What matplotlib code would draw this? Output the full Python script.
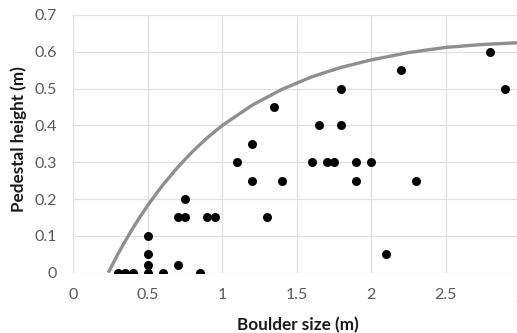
import matplotlib
matplotlib.use("Agg")
import matplotlib.pyplot as plt

# Observed boulders
boulder_size = [0.3, 0.35, 0.4, 0.5, 0.5, 0.5, 0.5, 0.6, 0.7, 0.85,
                0.7, 0.75, 0.75, 0.9, 0.95, 1.1, 1.2, 1.2, 1.3, 1.35,
                1.4, 1.6, 1.65, 1.7, 1.75, 1.8, 1.8, 1.9, 1.9, 2.0,
                2.1, 2.2, 2.3, 2.8, 2.9]
pedestal_height = [0, 0, 0, 0, 0.02, 0.05, 0.1, 0, 0.02, 0,
                   0.15, 0.15, 0.2, 0.15, 0.15, 0.3, 0.35, 0.25, 0.15, 0.45,
                   0.25, 0.3, 0.4, 0.3, 0.3, 0.5, 0.4, 0.3, 0.25, 0.3,
                   0.05, 0.55, 0.25, 0.6, 0.5]

# Envelope curve
curve_x = [0.235, 0.3, 0.35, 0.4, 0.45, 0.5, 0.55, 0.6, 0.7, 0.8, 0.9, 1.0,
           1.2, 1.4, 1.6, 1.8, 2.0, 2.25, 2.5, 2.75, 3.0]
curve_y = [0.0, 0.051, 0.087, 0.121, 0.153, 0.183, 0.211, 0.238, 0.286, 0.329,
           0.367, 0.400, 0.455, 0.498, 0.532, 0.558, 0.578, 0.598, 0.612,
           0.620, 0.625]

x_ticks = [0, 0.5, 1, 1.5, 2, 2.5, 3]
x_tick_labels = ["0", "0.5", "1", "1.5", "2", "2.5", "3"]
y_ticks = [0, 0.1, 0.2, 0.3, 0.4, 0.5, 0.6, 0.7]
y_tick_labels = ["0", "0.1", "0.2", "0.3", "0.4", "0.5", "0.6", "0.7"]

plt.rcParams['font.family'] = ['Lato', 'DejaVu Sans']

fig = plt.figure(figsize=(5.17, 3.33), dpi=100)
ax = fig.add_axes([73.3 / 517, 1 - 272.7 / 333, 447 / 517, 257.7 / 333])

ax.plot(curve_x, curve_y, color="#8f8f8f", lw=2.4, solid_capstyle="butt", zorder=2)
ax.scatter(boulder_size, pedestal_height, s=42, color="black", zorder=3, linewidths=0)

ax.set_xlim(0, 3)
ax.set_ylim(0, 0.7)
ax.set_xticks(x_ticks)
ax.set_xticklabels(x_tick_labels)
ax.set_yticks(y_ticks)
ax.set_yticklabels(y_tick_labels)
ax.grid(True, color="#e0e0e0", lw=0.9)
ax.set_axisbelow(True)
for s in ax.spines.values():
    s.set_visible(False)
ax.tick_params(length=0, labelsize=11.5, colors="#595959")
ax.tick_params(axis='x', pad=11)
ax.tick_params(axis='y', pad=12)

fig.text(298 / 517, 1 - 325 / 333, "Boulder size (m)", ha="center", va="center",
         fontsize=12.3, fontweight="bold", color="#1a1a1a")
fig.text(19 / 517, 1 - 139 / 333, "Pedestal height (m)", ha="center", va="center",
         rotation=90, fontsize=12.3, fontweight="bold", color="#1a1a1a")

fig.savefig("out.png", dpi=100)
